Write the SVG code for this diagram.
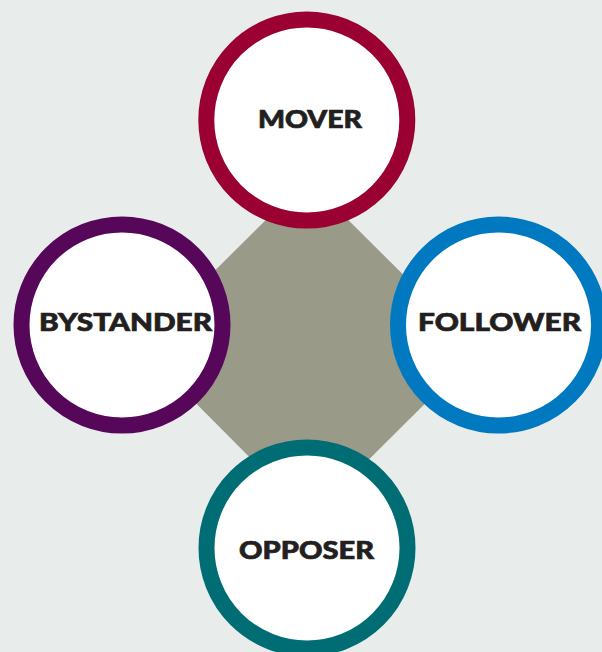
<svg xmlns="http://www.w3.org/2000/svg" width="602" height="652" viewBox="0 0 602 652">
<style>
.ring{fill:#ffffff;stroke-width:16}
.lbl{font-family:"Lato","Liberation Sans",sans-serif;font-weight:900;font-size:24px;fill:#231f20;stroke:#231f20;stroke-width:0.7;text-anchor:middle}
</style>
<rect x="0" y="0" width="602" height="652" fill="#e8ecea"/>
<g id="connectors">
<polygon points="307,179 479,350 310,518 139,346" fill="#9a9a88"/>
</g>
<g id="mover">
<circle class="ring" cx="306.8" cy="120" r="100.5" stroke="#9a0032"/>
<text class="lbl" x="310" y="128" textLength="104" lengthAdjust="spacingAndGlyphs">MOVER</text>
</g>
<g id="bystander">
<circle class="ring" cx="122" cy="325" r="100.5" stroke="#56075a"/>
<text class="lbl" x="125.5" y="331" textLength="173" lengthAdjust="spacingAndGlyphs">BYSTANDER</text>
</g>
<g id="follower">
<circle class="ring" cx="498.5" cy="325" r="100.5" stroke="#0079c1"/>
<text class="lbl" x="499.5" y="331" textLength="163" lengthAdjust="spacingAndGlyphs">FOLLOWER</text>
</g>
<g id="opposer">
<circle class="ring" cx="307" cy="548" r="100.5" stroke="#006d75"/>
<text class="lbl" x="306.5" y="559" textLength="135" lengthAdjust="spacingAndGlyphs">OPPOSER</text>
</g>
</svg>
